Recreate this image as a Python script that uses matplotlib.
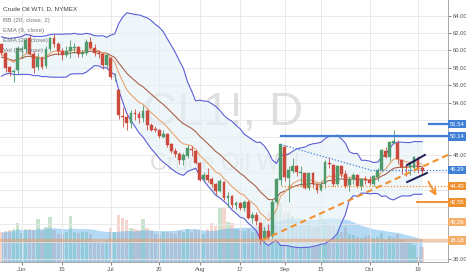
import numpy as np
import pandas as pd
import matplotlib
matplotlib.use('Agg')
import matplotlib.pyplot as plt
import matplotlib.transforms as mtransforms

plt.rcParams['font.family'] = ['Liberation Sans', 'DejaVu Sans']

# closes before the first visible bar (for BB / EMA warm-up), Apr 23 - May 21
prior_close = [57.74, 57.15, 56.99, 57.06, 58.58, 59.63, 59.15, 58.93, 60.40, 60.93,
               58.94, 59.39, 59.25, 60.75, 60.50, 59.88, 59.69, 59.43, 57.26, 58.98, 60.72]

# visible daily bars, May 22 - Oct 20 2015
opens = [60.70, 59.70, 58.10, 57.50, 57.70, 60.10, 60.20, 61.40, 59.60, 58.10,
         59.10, 58.20, 60.20, 61.40, 60.70, 59.90, 59.50, 59.90, 60.30, 60.40,
         59.60, 59.70, 61.00, 60.30, 59.70, 59.60, 58.30, 59.10, 56.90, 55.50,
         52.50, 52.40, 51.70, 52.80, 52.70, 52.20, 53.10, 51.40, 50.90, 50.90,
         50.10, 50.40, 49.20, 48.50, 48.10, 47.40, 47.90, 48.70, 48.50, 47.10,
         45.20, 45.70, 45.20, 44.70, 43.90, 44.90, 43.10, 43.30, 42.20, 42.50,
         41.90, 42.60, 40.80, 41.10, 40.20, 38.40, 39.30, 38.70, 42.60, 45.10,
         48.90, 45.40, 46.20, 46.70, 45.90, 45.90, 44.20, 45.90, 44.50, 44.00,
         44.60, 47.10, 46.80, 44.70, 46.70, 45.80, 44.50, 45.20, 45.70, 44.40,
         45.20, 45.10, 44.70, 45.50, 46.30, 48.50, 47.80, 49.40, 49.40, 47.40,
         46.70, 46.60, 46.50, 47.60, 46.50]
highs = [60.80, 59.80, 58.25, 57.90, 60.55, 60.50, 61.49, 61.80, 59.90, 59.70,
         59.40, 60.50, 61.60, 61.90, 61.00, 60.30, 60.50, 61.20, 60.90, 60.50,
         60.10, 61.30, 61.50, 60.70, 60.00, 59.70, 59.70, 59.30, 57.40, 55.60,
         53.50, 52.80, 53.20, 53.30, 53.00, 53.70, 53.30, 51.70, 51.30, 51.00,
         50.90, 50.50, 49.40, 48.80, 48.30, 48.20, 49.10, 49.00, 48.60, 47.20,
         46.00, 46.50, 45.50, 44.80, 45.20, 45.00, 43.70, 43.40, 42.70, 42.60,
         42.80, 42.80, 41.40, 41.40, 40.30, 39.70, 40.00, 42.90, 45.30, 49.30,
         49.10, 46.70, 47.60, 46.80, 46.70, 46.00, 45.90, 46.00, 44.80, 45.00,
         47.40, 47.70, 47.00, 46.80, 46.80, 46.30, 45.50, 45.90, 45.80, 45.40,
         45.60, 45.60, 45.70, 46.50, 48.70, 48.90, 49.60, 50.90, 49.70, 47.50,
         46.90, 47.10, 47.90, 47.90, 46.70]
lows = [59.45, 57.55, 57.05, 56.40, 57.30, 59.10, 59.75, 59.50, 57.40, 57.80,
        57.90, 58.00, 59.90, 60.40, 59.50, 58.90, 59.20, 59.10, 59.70, 59.20,
        59.20, 59.50, 60.20, 59.40, 59.10, 57.90, 58.10, 56.70, 56.50, 52.10,
        51.20, 50.90, 51.10, 52.00, 51.70, 51.80, 50.90, 50.80, 50.60, 49.90,
        49.90, 48.90, 48.20, 47.80, 46.90, 46.80, 47.60, 47.90, 46.90, 45.00,
        44.90, 44.90, 44.30, 43.40, 43.70, 42.80, 42.00, 41.90, 41.80, 41.70,
        41.60, 40.60, 40.20, 39.90, 37.75, 38.10, 38.30, 38.50, 42.40, 44.50,
        45.00, 42.60, 45.90, 45.60, 44.40, 44.10, 44.00, 44.20, 43.60, 43.80,
        44.20, 46.50, 44.40, 44.50, 45.50, 44.20, 43.90, 44.60, 44.20, 44.00,
        44.60, 44.50, 44.40, 45.00, 46.10, 47.60, 47.30, 49.20, 47.00, 45.80,
        45.60, 45.70, 46.00, 45.90, 45.80]
closes = [59.72, 58.03, 57.51, 57.68, 60.30, 60.20, 61.26, 59.64, 58.00, 59.13,
          58.14, 60.14, 61.43, 60.77, 59.96, 59.52, 59.97, 60.45, 60.45, 59.61,
          59.68, 61.01, 60.27, 59.70, 59.63, 58.33, 59.47, 56.96, 56.93, 52.53,
          52.33, 51.65, 52.78, 52.74, 52.20, 53.04, 51.41, 50.91, 50.89, 50.15,
          50.36, 49.19, 48.45, 48.14, 47.39, 47.98, 48.79, 48.52, 47.12, 45.17,
          45.74, 45.15, 44.66, 43.87, 44.96, 43.08, 43.30, 42.23, 42.50, 41.87,
          42.62, 40.80, 41.14, 40.45, 38.24, 39.31, 38.60, 42.56, 45.22, 49.20,
          45.41, 46.25, 46.75, 46.05, 45.94, 44.15, 45.92, 44.63, 44.00, 44.59,
          47.15, 46.90, 44.68, 46.68, 45.83, 44.48, 45.22, 45.70, 44.43, 45.23,
          45.09, 44.74, 45.54, 46.26, 48.53, 47.81, 49.43, 49.63, 47.50, 46.66,
          46.64, 46.90, 47.80, 46.40, 46.10]
# volume, thousands of contracts
volume = [300, 310, 320, 330, 390, 290, 330, 330, 320, 430,
          310, 350, 450, 320, 280, 280, 300, 460, 300, 290,
          300, 300, 280, 190, 190, 200, 220, 340, 300, 470,
          440, 420, 340, 330, 320, 430, 340, 320, 280, 270,
          300, 300, 290, 280, 310, 300, 330, 300, 320, 320,
          280, 330, 390, 360, 540, 540, 400, 390, 330, 320,
          310, 330, 300, 360, 450, 440, 500, 600, 620, 590,
          490, 500, 460, 400, 380, 360, 400, 340, 350, 470,
          400, 380, 360, 330, 300, 350, 280, 270, 250, 240,
          260, 270, 240, 250, 290, 220, 260, 240, 280, 220,
          200, 190, 170, 50, 150]

tick_pos = [5, 15, 27, 39, 49, 59, 70, 79, 91, 103]
tick_lab = ['Jun', '15', 'Jul', '20', 'Aug', '17', 'Sep', '15', 'Oct', '19']

# price scale ticks that stay readable (the rest sit under the level boxes)
price_ticks = [36, 48, 54, 56, 58, 60, 62, 64]

# drawn levels (price labels on the right scale)
blue_levels = [51.54, 50.14, 46.29]
orange_levels = [44.40, 42.55]
light_orange_levels = [40.26, 38.18]

GREEN = '#4f9a6a'
RED = '#cc4a3c'
BLUE = '#3f7fd6'
ORANGE = '#f0902e'

# indicators
all_close = pd.Series(prior_close + closes)
n_prior = len(prior_close)
sma = all_close.rolling(20).mean()
sd = all_close.rolling(20).std(ddof=0)
bb_up = (sma + 2 * sd).values[n_prior:]
bb_lo = (sma - 2 * sd).values[n_prior:]
ema9 = all_close.ewm(span=9, adjust=False).mean().values[n_prior:]
ema20 = all_close.ewm(span=20, adjust=False).mean().values[n_prior:]
vol_ma = pd.Series(volume).rolling(20, min_periods=1).mean().values

o = np.array(opens)
h = np.array(highs)
l = np.array(lows)
c = np.array(closes)
x = np.arange(len(c))
up = c >= o

fig = plt.figure(figsize=(4.66, 2.75), dpi=100)
ax = fig.add_axes([0, 13 / 275, 448 / 466, 262 / 275])
ax.set_xlim(-0.37, 110.4)
ax.set_ylim(35.69, 65.8)

# volume panel on a twin scale
axv = ax.twinx()
axv.set_ylim(0, 2620)
axv.set_zorder(0)
ax.set_zorder(1)
ax.patch.set_visible(False)
axv.bar(x, volume, width=0.8, color=np.where(up, '#9ccfa6', '#efb3a8'), alpha=0.55, lw=0)
axv.fill_between(x, 0, vol_ma, color='#4aa6e6', alpha=0.42, lw=0)
axv.set_yticks([])
for s in axv.spines.values():
    s.set_visible(False)

# grid
for t in tick_pos:
    ax.axvline(t, color='#e6e6e6', lw=0.6, zorder=0)
for p in np.arange(36, 66, 2):
    ax.axhline(p, color='#e6e6e6', lw=0.6, zorder=0)

# watermark
ax.text(0.497, 0.57, 'CL1!, D', transform=ax.transAxes, ha='center', va='center',
        fontsize=34, color='#d2d2d2', alpha=0.7, zorder=0.5)
ax.text(0.503, 0.375, 'Crude Oil WTI', transform=ax.transAxes, ha='center', va='center',
        fontsize=17, color='#d2d2d2', alpha=0.7, zorder=0.5)

# Bollinger bands and EMAs
ax.fill_between(x, bb_lo, bb_up, color='#e6f2f8', alpha=0.65, lw=0, zorder=0.6)
ax.plot(x, bb_up, color='#5b5fd6', lw=0.8, zorder=2)
ax.plot(x, bb_lo, color='#5b5fd6', lw=0.8, zorder=2)
ax.plot(x, ema20, color='#a9624a', lw=0.8, zorder=2)
ax.plot(x, ema9, color='#eaa46e', lw=0.8, zorder=2)

# candles
col = np.where(up, GREEN, RED)
ax.vlines(x, l, h, colors=col, lw=0.6, zorder=3)
ax.bar(x, np.maximum(np.abs(c - o), 0.08), bottom=np.minimum(o, c), width=0.7,
       color=col, edgecolor=col, lw=0.3, zorder=4)

# drawings
x_end = 110.4
ax.plot([69, x_end], [50.14, 50.14], color=BLUE, lw=1.6, zorder=5)
ax.plot([105.7, x_end], [51.54, 51.54], color=BLUE, lw=1.6, zorder=5)
ax.plot([69, 91], [49.2, 46.3], color=BLUE, lw=0.9, ls=(0, (1, 1.5)), zorder=5)
ax.plot([91, x_end], [46.29, 46.29], color=BLUE, lw=0.9, ls=(0, (1, 1.5)), zorder=5)
ax.plot([69, x_end], [44.40, 44.40], color=ORANGE, lw=0.9, ls=(0, (1, 1.5)), zorder=5)
ax.plot([102.7, x_end], [42.55, 42.55], color=ORANGE, lw=1.4, zorder=5)
ax.plot([-0.37, x_end], [38.18, 38.18], color='#e8a070', lw=2.4, alpha=0.55, zorder=5)
ax.plot([64.5, x_end], [38.2, 48.0], color=ORANGE, lw=1.5, ls=(0, (3, 2)), zorder=5)
ax.plot([100.3, 104.7], [46.84, 48.0], color='#1c1f5a', lw=1.4, zorder=6)
ax.plot([100.3, 105.2], [44.88, 45.92], color='#1c1f5a', lw=1.4, zorder=6)
ax.annotate('', xy=(107.9, 43.0), xytext=(105.2, 45.2),
            arrowprops=dict(arrowstyle='->', color=ORANGE, lw=1.3), zorder=6)

# axes styling
for side in ['top', 'left']:
    ax.spines[side].set_visible(False)
ax.spines['right'].set_color('#9a9a9a')
ax.spines['bottom'].set_color('#9a9a9a')
ax.spines['right'].set_linewidth(0.6)
ax.spines['bottom'].set_linewidth(0.6)
ax.yaxis.tick_right()
ax.set_yticks(price_ticks)
ax.set_yticklabels(['%.2f' % v for v in price_ticks])
ax.set_xticks(tick_pos)
ax.set_xticklabels(tick_lab)
ax.tick_params(axis='both', labelsize=4.2, colors='#555555', length=2, width=0.5, pad=1.5)

# price labels on the scale
trans = mtransforms.blended_transform_factory(ax.transAxes, ax.transData)
for lev_list, fc in [(blue_levels, BLUE), (orange_levels, ORANGE), (light_orange_levels, '#f4ae6c')]:
    for v in lev_list:
        ax.text(1.004, v, '%.2f' % v, transform=trans, ha='left', va='center', fontsize=4.2,
                color='white', clip_on=False, zorder=10,
                bbox=dict(boxstyle='square,pad=0.3', fc=fc, ec='none'))

# legend text
ax.text(0.007, 0.965, 'Crude Oil WTI, D, NYMEX', transform=ax.transAxes, fontsize=4.6,
        color='#444444', va='center', zorder=10)
for k, s in enumerate(['BB (20, close, 2)', 'EMA (9, close)', 'EMA (20, close)', 'Vol (20, close)']):
    ax.text(0.007, 0.922 - 0.0385 * k, s, transform=ax.transAxes, fontsize=4.6,
            color='#777777', va='center', zorder=10)

fig.savefig('out.png', dpi=100)
